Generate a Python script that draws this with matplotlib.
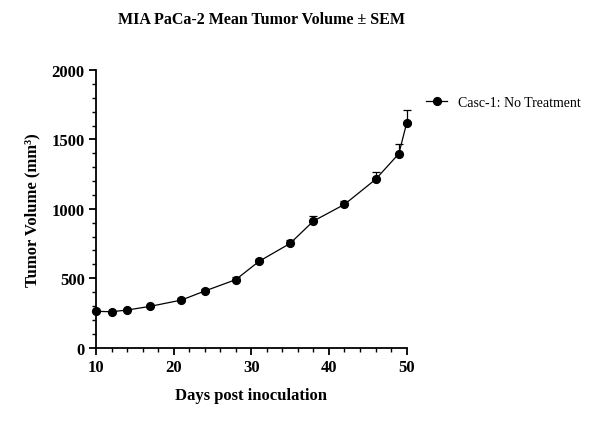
import numpy as np
import matplotlib.pyplot as plt
from matplotlib.lines import Line2D
from matplotlib.ticker import MultipleLocator

days = [10, 12, 14, 17, 21, 24, 28, 31, 35, 38, 42, 46, 49, 50]
volume = [262, 259, 271, 298, 343, 408, 490, 622, 751, 912, 1032, 1212, 1397, 1616]
sem = [8, 8, 9, 10, 12, 14, 16, 18, 24, 36, 27, 50, 72, 96]

plt.rcParams['font.family'] = ['Liberation Serif', 'DejaVu Serif']

fig = plt.figure(figsize=(5.91, 4.35), dpi=100)
ax = fig.add_axes([0.1624, 0.1984, 0.5256, 0.6384])

lower = np.zeros(len(sem))
ax.errorbar(days, volume, yerr=[lower, sem], color='black', linewidth=0.9,
            marker='o', markersize=5.6, capsize=3, elinewidth=0.9, capthick=0.9,
            clip_on=False, zorder=3)

ax.set_xlim(10, 50)
ax.set_ylim(0, 2000)
ax.xaxis.set_major_locator(MultipleLocator(10))
ax.xaxis.set_minor_locator(MultipleLocator(2))
ax.yaxis.set_major_locator(MultipleLocator(500))
ax.yaxis.set_minor_locator(MultipleLocator(100))

for s in ['top', 'right']:
    ax.spines[s].set_visible(False)
for s in ['left', 'bottom']:
    ax.spines[s].set_linewidth(1.3)

ax.tick_params(which='major', length=5, width=1.3, labelsize=12, pad=3)
ax.tick_params(which='minor', length=3, width=1.0)
for lab in ax.get_xticklabels() + ax.get_yticklabels():
    lab.set_fontweight('bold')

ax.set_xlabel('Days post inoculation', fontsize=12, fontweight='bold', labelpad=9)
ax.set_ylabel('Tumor Volume (mm\u00b3)', fontsize=12, fontweight='bold', labelpad=8)
fig.text(0.443, 0.955, 'MIA PaCa-2 Mean Tumor Volume \u00b1 SEM', ha='center', va='center',
         fontsize=11.5, fontweight='bold')

handle = Line2D([], [], color='black', linewidth=0.9, marker='o', markersize=5.6)
fig.legend([handle], ['Casc-1: No Treatment'], loc='center left',
           bbox_to_anchor=(0.705, 0.763), frameon=False, fontsize=10,
           handlelength=1.5, handletextpad=0.8, borderpad=0.2)

fig.savefig('out.png', dpi=100)
